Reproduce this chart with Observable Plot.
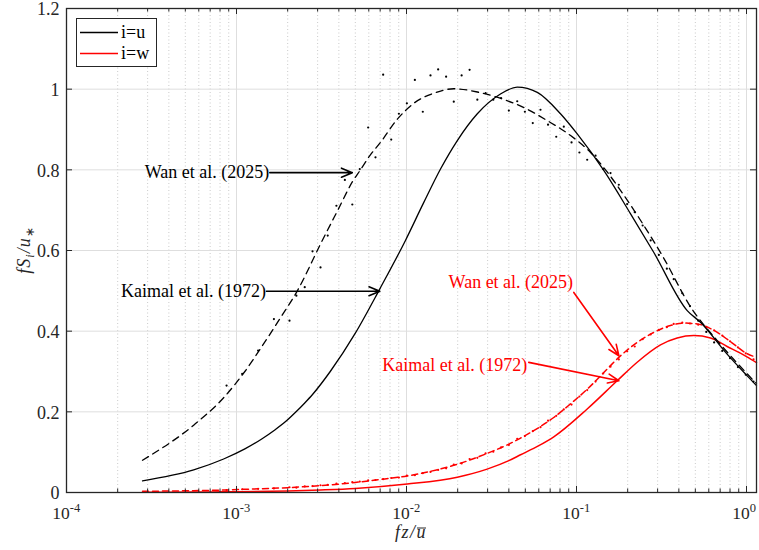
<!DOCTYPE html>
<html><head><meta charset="utf-8">
<script src="https://cdn.jsdelivr.net/npm/d3@7"></script>
<script src="https://cdn.jsdelivr.net/npm/@observablehq/plot@0.6"></script>
<style>
body{margin:0;background:#fff;}
#chart{width:759px;height:550px;}
</style></head><body><div id="chart"></div>
<script>
// ---------- data ----------
// Kaimal et al. (1972), i=u (black solid)
const kaimalU_f = [2.8e-4,5.6e-4,8.4e-4,1.12e-3,1.4e-3,1.68e-3,1.96e-3,2.24e-3,2.52e-3,2.8e-3,3.56e-3,5e-3,6.97e-3,9.86e-3,0.0126,0.01585,0.01986,0.0261,0.0357,0.0448,0.0588,0.0805,0.101,0.145,0.208,0.285,0.448,0.536,0.769,1.0,1.145];
const kaimalU_v = [0.029,0.056,0.083,0.108,0.132,0.155,0.177,0.200,0.222,0.243,0.300,0.395,0.505,0.625,0.718,0.802,0.872,0.939,0.988,1.005,0.992,0.939,0.889,0.798,0.691,0.595,0.451,0.422,0.343,0.291,0.265];
// Wan et al. (2025), i=u fit (black dashed)
const wanU_f = [2.8e-4,5.6e-4,8.4e-4,1.12e-3,1.4e-3,1.82e-3,2.28e-3,3.12e-3,4e-3,4.8e-3,5.36e-3,6.1e-3,7.03e-3,8.81e-3,0.01104,0.01448,0.019,0.0261,0.0341,0.0498,0.0673,0.0923,0.121,0.145,0.19,0.249,0.327,0.469,0.671,0.85,1.145];
const wanU_v = [0.080,0.167,0.235,0.300,0.360,0.434,0.500,0.616,0.705,0.770,0.800,0.836,0.868,0.925,0.965,0.990,1.001,0.993,0.980,0.953,0.922,0.885,0.843,0.805,0.737,0.662,0.580,0.460,0.377,0.328,0.270];
// Wan et al. (2025), i=u measured spectrum (black dots)
const dataU_f = [8.74e-4,1.08e-3,1.34e-3,1.66e-3,2.05e-3,2.25e-3,2.52e-3,2.8e-3,3.12e-3,3.44e-3,3.87e-3,4.34e-3,4.8e-3,5.31e-3,5.95e-3,6.57e-3,7.29e-3,8.13e-3,9.02e-3,0.01005,0.0112,0.01247,0.01384,0.01535,0.0171,0.01897,0.0211,0.0235,0.0261,0.0292,0.0324,0.036,0.04,0.0448,0.0497,0.0553,0.0614,0.068,0.076,0.0842,0.0935,0.104,0.1156,0.1294,0.1436,0.1585,0.1774,0.1986,0.22,0.245,0.273,0.305,0.34,0.373,0.419,0.465,0.52,0.58,0.645,0.72,0.80,0.89,0.99,1.10];
const dataU_v = [0.265,0.294,0.352,0.430,0.426,0.488,0.509,0.598,0.558,0.637,0.711,0.775,0.714,0.802,0.905,0.831,1.036,0.875,0.939,0.965,1.023,0.944,1.034,1.049,1.031,0.969,1.034,1.048,0.974,0.990,0.974,0.978,0.947,0.970,0.944,0.916,0.949,0.912,0.882,0.907,0.868,0.843,0.825,0.835,0.802,0.792,0.763,0.715,0.695,0.662,0.625,0.589,0.555,0.529,0.494,0.462,0.426,0.398,0.372,0.351,0.333,0.311,0.292,0.275];
// Kaimal et al. (1972), i=w (red solid)
const kaimalW_f = [2.8e-4,5.6e-4,8.4e-4,1e-3,2e-3,3.12e-3,5e-3,0.0101,0.0199,0.0298,0.04,0.0469,0.06,0.0735,0.1156,0.1735,0.2275,0.312,0.391,0.49,0.614,0.769,1.0,1.145];
const kaimalW_v = [0.0006,0.0011,0.0017,0.002,0.004,0.0065,0.0102,0.021,0.038,0.058,0.079,0.0935,0.116,0.138,0.207,0.277,0.323,0.366,0.383,0.389,0.383,0.362,0.337,0.322];
// Wan et al. (2025), i=w fit (red dashed)
const wanW_f = [2.8e-4,5.6e-4,8.4e-4,1.12e-3,2e-3,3.12e-3,5e-3,6.58e-3,0.0101,0.015,0.0199,0.0298,0.04,0.0469,0.06,0.0735,0.0923,0.1156,0.1514,0.1774,0.2275,0.285,0.357,0.428,0.513,0.643,0.805,1.0,1.145];
const wanW_v = [0.003,0.0045,0.006,0.008,0.012,0.017,0.025,0.031,0.041,0.056,0.070,0.097,0.120,0.135,0.161,0.186,0.220,0.256,0.306,0.335,0.372,0.397,0.414,0.420,0.418,0.402,0.374,0.345,0.335];
// Wan et al. (2025), i=w measured spectrum (red dots)
const dataW_f = [8.74e-4,1.08e-3,1.34e-3,1.66e-3,2.05e-3,2.25e-3,2.52e-3,2.8e-3,3.12e-3,3.44e-3,3.87e-3,4.34e-3,4.8e-3,5.31e-3,5.95e-3,6.57e-3,7.29e-3,8.13e-3,9.02e-3,0.01005,0.0112,0.01247,0.01384,0.01535,0.0171,0.01897,0.0211,0.0235,0.0261,0.0292,0.0324,0.036,0.04,0.0448,0.0497,0.0553,0.0614,0.068,0.076,0.0842,0.0935,0.104,0.1156,0.1294,0.1436,0.1585,0.1774,0.1986,0.22,0.245,0.273,0.305,0.34,0.373,0.419,0.465,0.52,0.58,0.645,0.72,0.80,0.89,0.99,1.10];
const dataW_v = [0.006,0.008,0.009,0.010,0.013,0.012,0.015,0.016,0.018,0.019,0.022,0.023,0.026,0.027,0.030,0.031,0.033,0.036,0.037,0.042,0.043,0.048,0.051,0.056,0.060,0.069,0.072,0.083,0.086,0.097,0.101,0.112,0.118,0.133,0.140,0.152,0.162,0.178,0.190,0.206,0.218,0.238,0.254,0.275,0.295,0.312,0.330,0.350,0.362,0.380,0.392,0.403,0.410,0.418,0.421,0.419,0.416,0.410,0.402,0.389,0.375,0.360,0.345,0.330];

// tick values / labels
const xDecades = [1e-4,1e-3,1e-2,1e-1,1];
const xDecadeExp = ["-4","-3","-2","-1","0"];
const yTicks = [0,0.2,0.4,0.6,0.8,1,1.2];
const yTickLabels = ["0","0.2","0.4","0.6","0.8","1","1.2"];

// annotations
const annLabels = ["Wan et al. (2025)","Kaimal et al. (1972)","Wan et al. (2025)","Kaimal et al. (1972)"];
const annColors = ["#000000","#000000","#ff0000","#ff0000"];
const annTextF = [1.56e-3,1.49e-3,0.0955,0.0513];
const annTextV = [0.793,0.499,0.521,0.316];
const annTailF = [1.57e-3,1.50e-3,0.0964,0.0524];
const annTailV = [0.793,0.499,0.496,0.3226];
const annTipF = [4.8e-3,6.97e-3,0.1775,0.1775];
const annTipV = [0.793,0.499,0.339,0.277];

const legendLabels = ["i=u","i=w"];
const legendColors = ["#000000","#ff0000"];

// ---------- build tables ----------
const zip = (f, v) => f.map((x, i) => ({f: x, v: v[i]}));
const kU = zip(kaimalU_f, kaimalU_v), wU = zip(wanU_f, wanU_v), dU = zip(dataU_f, dataU_v);
const kW = zip(kaimalW_f, kaimalW_v), wW = zip(wanW_f, wanW_v), dW = zip(dataW_f, dataW_v);
const ann = annLabels.map((t, i) => ({t, c: annColors[i], tf: annTextF[i], tv: annTextV[i],
  x1: annTailF[i], y1: annTailV[i], x2: annTipF[i], y2: annTipV[i]}));

const W = 759, H = 550, mL = 66, mR = 3, mT = 8, mB = 58;
const xMin = 1e-4, xMax = Math.pow(10, 0.0588);
const decPx = (W - mL - mR) / Math.log10(xMax / xMin);
const yPx = (H - mT - mB) / 1.2;

const xMinor = [];
for (let d = -4; d <= 0; d++) for (let k = 2; k <= 9; k++) { const v = k * Math.pow(10, d); if (v < xMax) xMinor.push(v); }
const xDecIn = xDecades.filter(d => d <= xMax);

const majLen = 6, minLen = 3.5;
const tY = (px) => px / yPx;
const tX = (px) => Math.pow(10, px / decPx);

const serif = "'Liberation Serif', 'Times New Roman', Times, serif";
const axisColor = "#262626";

const plot = Plot.plot({
  width: W, height: H,
  marginLeft: mL, marginRight: mR, marginTop: mT, marginBottom: mB,
  style: {fontFamily: serif, background: "#fff", overflow: "visible"},
  x: {type: "log", domain: [xMin, xMax], axis: null},
  y: {domain: [0, 1.2], axis: null},
  marks: [
    Plot.ruleX(xMinor, {x: d => d, stroke: "#bdbdbd", strokeWidth: 0.8, strokeDasharray: "1,2.5"}),
    Plot.ruleX(xDecIn, {x: d => d, stroke: "#dedede", strokeWidth: 1}),
    Plot.ruleY(yTicks, {y: d => d, stroke: "#dedede", strokeWidth: 1}),
    Plot.line(kW, {x: "f", y: "v", stroke: "#ff0000", strokeWidth: 1.5, curve: "monotone-x"}),
    Plot.line(wW, {x: "f", y: "v", stroke: "#ff0000", strokeWidth: 1.5, strokeDasharray: "6,4", curve: "monotone-x"}),
    Plot.dot(dW, {x: "f", y: "v", r: 1.1, fill: "#ff0000", stroke: null}),
    Plot.line(kU, {x: "f", y: "v", stroke: "#000", strokeWidth: 1.3, curve: "monotone-x"}),
    Plot.line(wU, {x: "f", y: "v", stroke: "#000", strokeWidth: 1.3, strokeDasharray: "7,5", curve: "monotone-x"}),
    Plot.dot(dU, {x: "f", y: "v", r: 1.1, fill: "#000", stroke: null}),
    Plot.arrow(ann, {x1: "x1", y1: "y1", x2: "x2", y2: "y2", stroke: "c", strokeWidth: 1.6, headLength: 11, headAngle: 45}),
    Plot.text(ann, {x: "tf", y: "tv", text: "t", fill: "c", textAnchor: "end", lineAnchor: "middle", fontSize: 18, fontFamily: serif}),
    Plot.ruleX(xDecIn, {x: d => d, y1: 0, y2: tY(majLen), stroke: axisColor, strokeWidth: 1}),
    Plot.ruleX(xDecIn, {x: d => d, y1: 1.2 - tY(majLen), y2: 1.2, stroke: axisColor, strokeWidth: 1}),
    Plot.ruleX(xMinor, {x: d => d, y1: 0, y2: tY(minLen), stroke: axisColor, strokeWidth: 1}),
    Plot.ruleX(xMinor, {x: d => d, y1: 1.2 - tY(minLen), y2: 1.2, stroke: axisColor, strokeWidth: 1}),
    Plot.ruleY(yTicks, {y: d => d, x1: xMin, x2: xMin * tX(majLen), stroke: axisColor, strokeWidth: 1}),
    Plot.ruleY(yTicks, {y: d => d, x1: xMax / tX(majLen), x2: xMax, stroke: axisColor, strokeWidth: 1}),
    Plot.frame({stroke: axisColor, strokeWidth: 1.3}),
    Plot.text(yTicks, {x: xMin, y: d => d, text: (d, i) => yTickLabels[i], textAnchor: "end", lineAnchor: "middle", dx: -7, dy: 1, fontSize: 18, fill: axisColor, fontFamily: serif}),
    Plot.text(xDecades, {x: d => d, y: 0, text: () => "10", textAnchor: "end", lineAnchor: "middle", dx: 3.3, dy: 21, fontSize: 17.5, fill: axisColor, fontFamily: serif}),
    Plot.text(xDecades, {x: d => d, y: 0, text: (d, i) => xDecadeExp[i], textAnchor: "start", lineAnchor: "middle", dx: 3.3, dy: 15, fontSize: 12.5, fill: axisColor, fontFamily: serif})
  ]
});
document.getElementById("chart").appendChild(plot);

const svg = d3.select(plot);
const ff = serif;
// x label: f z / u-bar
const xl = svg.append("text").attr("x", (mL + W - mR) / 2).attr("y", 538).attr("text-anchor", "middle")
  .attr("font-family", ff).attr("font-size", 18).attr("font-style", "italic").attr("fill", axisColor)
  .attr("letter-spacing", 1.5).text("fz/u");
{
  const n = xl.node();
  const ext = n.getExtentOfChar(3);
  svg.append("line").attr("x1", ext.x + 0.5).attr("x2", ext.x + ext.width - 1)
    .attr("y1", 528).attr("y2", 528).attr("stroke", axisColor).attr("stroke-width", 1);
}
// y label: f S_i / u_*
const yl = svg.append("text").attr("transform", `translate(30,${(mT + H - mB) / 2}) rotate(-90)`).attr("text-anchor", "middle")
  .attr("font-family", ff).attr("font-size", 18).attr("font-style", "italic").attr("fill", axisColor)
  .attr("letter-spacing", 1);
yl.append("tspan").text("fS");
yl.append("tspan").attr("font-size", 12).attr("dy", 4).text("i");
yl.append("tspan").attr("dy", -4).text("/u");
yl.append("tspan").attr("font-size", 12).attr("dy", 4).attr("font-style", "normal").text("∗");

// legend box
const lg = svg.append("g").attr("text-anchor", "start");
lg.append("rect").attr("x", 76.5).attr("y", 18.5).attr("width", 80).attr("height", 48)
  .attr("fill", "#fff").attr("stroke", axisColor).attr("stroke-width", 1);
legendLabels.forEach((lab, i) => {
  const cy = 32.5 + i * 21;
  lg.append("line").attr("x1", 80).attr("x2", 118).attr("y1", cy).attr("y2", cy)
    .attr("stroke", legendColors[i]).attr("stroke-width", 1.5);
  lg.append("text").attr("x", 121).attr("y", cy).attr("dy", "0.32em").attr("text-anchor", "start")
    .attr("font-family", ff).attr("font-size", 18).attr("fill", "#000").text(lab);
});
</script>
</body></html>
